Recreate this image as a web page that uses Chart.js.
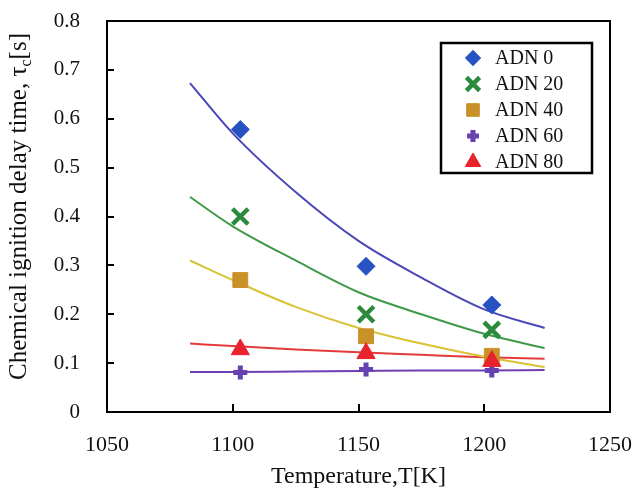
<!DOCTYPE html>
<html>
<head>
<meta charset="utf-8">
<script src="https://cdn.jsdelivr.net/npm/chart.js@4.4.1/dist/chart.umd.min.js"></script>
<style>
body{margin:0;background:#fff}
#wrap{width:636px;height:492px}
</style>
</head>
<body>
<div id="wrap"><canvas id="ignChart" width="636" height="492"></canvas></div>
<script>
// measured points (temperature in K, delay time in s)
var temps = [1103, 1153, 1203]
var adn0 = [0.578, 0.298, 0.219]
var adn20 = [0.40, 0.20, 0.168]
var adn40 = [0.27, 0.155, 0.115]
var adn60 = [0.081, 0.087, 0.085]
var adn80 = [0.128, 0.12, 0.104]

// fitted curves
var fitTemps = [1083, 1100, 1125, 1150, 1175, 1200, 1224]
var fit0 = [0.673, 0.57, 0.45, 0.35, 0.275, 0.21, 0.172]
var fit20 = [0.44, 0.38, 0.31, 0.245, 0.20, 0.16, 0.131]
var fit40 = [0.31, 0.27, 0.215, 0.172, 0.14, 0.113, 0.092]
var fit60 = [0.082, 0.082, 0.083, 0.084, 0.085, 0.085, 0.086]
var fit80 = [0.140, 0.135, 0.128, 0.122, 0.117, 0.112, 0.109]

var seriesNames = ['ADN 0', 'ADN 20', 'ADN 40', 'ADN 60', 'ADN 80']
var xTicks = [1050, 1100, 1150, 1200, 1250]
var yTicks = [0, 0.1, 0.2, 0.3, 0.4, 0.5, 0.6, 0.7, 0.8]

var serif = "'Liberation Serif', 'Times New Roman', serif"

let pts = (xs, ys) => xs.map((x, i) => ({x: x, y: ys[i]}))

// marker look per series
let marks = [
	{style: 'rectRot', color: '#2753c2', radius: 9, bw: 1},
	{style: 'crossRot', color: '#2c8a3c', radius: 11, bw: 4.5},
	{style: 'rect', color: '#c99128', radius: 10.5, bw: 1},
	{style: 'cross', color: '#6641b0', radius: 7, bw: 5},
	{style: 'triangle', color: '#e8232c', radius: 10.5, bw: 1}
]
let lineColors = ['#4a48b8', '#3f9a48', '#d9c234', '#6e3fb3', '#e33b3b']
let pointSets = [adn0, adn20, adn40, adn60, adn80]
let fitSets = [fit0, fit20, fit40, fit60, fit80]

let datasets = []
pointSets.forEach((d, i) => {
	let m = marks[i]
	datasets.push({
		label: seriesNames[i],
		data: pts(temps, d),
		showLine: false,
		pointStyle: m.style,
		pointRadius: m.radius,
		pointBackgroundColor: m.color,
		pointBorderColor: m.color,
		pointBorderWidth: m.bw,
		order: 5 - i
	})
})
fitSets.forEach((d, i) => {
	datasets.push({
		label: seriesNames[i] + ' fit',
		data: pts(fitTemps, d),
		showLine: true,
		borderColor: lineColors[i],
		borderWidth: 2,
		pointRadius: 0,
		cubicInterpolationMode: 'monotone',
		fill: false,
		order: 10
	})
})

// frame, inward ticks, y title with subscript, boxed legend
let decor = {
	id: 'decor',
	afterDraw: chart => {
		let ctx = chart.ctx
		let a = chart.chartArea
		let xs = chart.scales.x, ys = chart.scales.y
		ctx.save()
		ctx.strokeStyle = '#000'
		ctx.lineWidth = 2
		ctx.strokeRect(a.left, a.top, a.right - a.left, a.bottom - a.top)
		ctx.beginPath()
		yTicks.slice(1, -1).forEach(v => {
			let py = Math.round(ys.getPixelForValue(v))
			ctx.moveTo(a.left, py)
			ctx.lineTo(a.left + 7, py)
		})
		xTicks.slice(1, -1).forEach(v => {
			let px = Math.round(xs.getPixelForValue(v))
			ctx.moveTo(px, a.bottom)
			ctx.lineTo(px, a.bottom - 8)
		})
		ctx.stroke()

		// y axis title
		ctx.fillStyle = '#111'
		ctx.textBaseline = 'alphabetic'
		let big = '25px ' + serif, small = '16px ' + serif
		let p1 = 'Chemical ignition delay time, \u03c4', p2 = 'c', p3 = '[s]'
		ctx.font = big
		let w1 = ctx.measureText(p1).width, w3 = ctx.measureText(p3).width
		ctx.font = small
		let w2 = ctx.measureText(p2).width
		let tot = w1 + w2 + w3
		ctx.translate(26, (a.top + a.bottom) / 2 - 10)
		ctx.rotate(-Math.PI / 2)
		let sx = -tot / 2
		ctx.font = big
		ctx.fillText(p1, sx, 0)
		ctx.font = small
		ctx.fillText(p2, sx + w1, 5)
		ctx.font = big
		ctx.fillText(p3, sx + w1 + w2, 0)
		ctx.setTransform(1, 0, 0, 1, 0, 0)

		// legend
		let bx = a.right - 169, by = a.top + 22, bw = 151, bh = 130
		ctx.fillStyle = '#fff'
		ctx.fillRect(bx, by, bw, bh)
		ctx.lineWidth = 2.5
		ctx.strokeStyle = '#000'
		ctx.strokeRect(bx, by, bw, bh)
		seriesNames.forEach((name, i) => {
			let m = marks[i]
			let cy = by + 15 + i * 26
			ctx.fillStyle = m.color
			ctx.strokeStyle = m.color
			ctx.lineWidth = m.bw
			Chart.helpers.drawPoint(ctx, {pointStyle: m.style, radius: m.radius * 0.85, borderWidth: m.bw, rotation: 0}, bx + 32, cy)
			ctx.fillStyle = '#111'
			ctx.font = '20px ' + serif
			ctx.textBaseline = 'middle'
			ctx.textAlign = 'left'
			ctx.fillText(name, bx + 54, cy + 1)
		})
		ctx.restore()
	}
}

new Chart(document.getElementById('ignChart'), {
	type: 'scatter',
	data: {datasets: datasets},
	options: {
		responsive: false,
		animation: false,
		events: [],
		layout: {padding: {left: 0, top: 21, right: 26, bottom: 0}},
		plugins: {legend: {display: false}, tooltip: {enabled: false}},
		scales: {
			x: {
				type: 'linear',
				min: 1050, max: 1250,
				afterBuildTicks: s => { s.ticks = xTicks.map(v => ({value: v})) },
				afterFit: s => { s.height = 80; s.paddingLeft = 0; s.paddingRight = 0 },
				grid: {display: false},
				border: {display: false},
				ticks: {color: '#111', font: {family: serif, size: 22}, padding: 12, maxRotation: 0, callback: v => String(v)},
				title: {display: true, text: 'Temperature,T[K]', color: '#111', font: {family: serif, size: 24}, padding: {top: 0, bottom: 1}}
			},
			y: {
				type: 'linear',
				min: 0, max: 0.8,
				afterBuildTicks: s => { s.ticks = yTicks.map(v => ({value: v})) },
				afterFit: s => { s.width = 107; s.paddingTop = 0; s.paddingBottom = 0 },
				grid: {display: false},
				border: {display: false},
				ticks: {color: '#111', font: {family: serif, size: 21}, padding: 19, callback: v => String(v)}
			}
		}
	},
	plugins: [decor]
})
</script>
</body>
</html>
